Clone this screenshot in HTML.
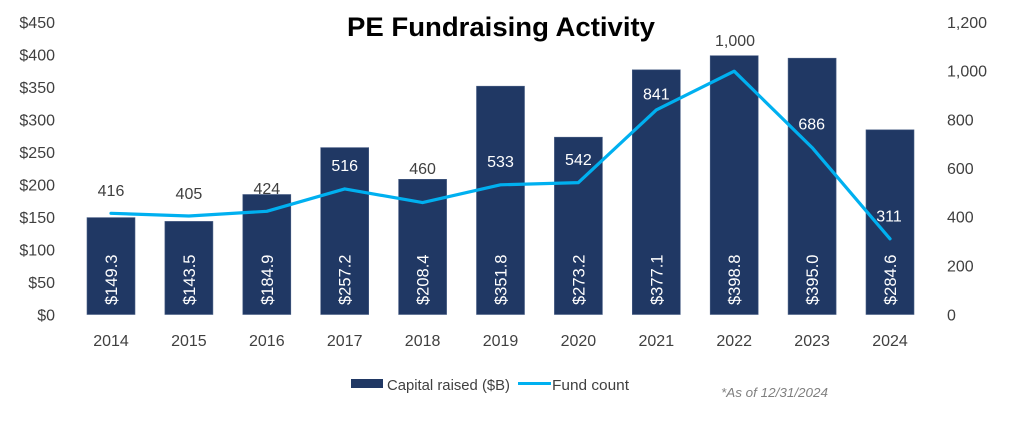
<!DOCTYPE html>
<html><head><meta charset="utf-8"><style>
html,body{margin:0;padding:0;background:#fff;}
svg{display:block;font-family:"Liberation Sans",Arial,sans-serif;}
</style></head><body>
<svg width="1024" height="438" viewBox="0 0 1024 438" xmlns="http://www.w3.org/2000/svg">
<rect width="1024" height="438" fill="#fff"/>
<text x="501" y="36" text-anchor="middle" font-size="27" font-weight="bold" fill="#000" textLength="308" lengthAdjust="spacingAndGlyphs">PE Fundraising Activity</text>
<g font-size="16" fill="#404040" text-anchor="end">
<text x="55" y="28">$450</text><text x="55" y="60.5">$400</text><text x="55" y="93">$350</text><text x="55" y="125.5">$300</text><text x="55" y="158">$250</text><text x="55" y="190.5">$200</text><text x="55" y="223">$150</text><text x="55" y="255.5">$100</text><text x="55" y="288">$50</text><text x="55" y="320.5">$0</text>
</g>
<g font-size="16" fill="#404040" text-anchor="start">
<text x="947" y="28">1,200</text><text x="947" y="76.7">1,000</text><text x="947" y="125.3">800</text><text x="947" y="174">600</text><text x="947" y="222.7">400</text><text x="947" y="271.3">200</text><text x="947" y="320.5">0</text>
</g>
<g fill="#203864" stroke="#4a5f86" stroke-width="0.6">
<rect x="87" y="217.6" width="48" height="96.9"/>
<rect x="164.9" y="221.4" width="48" height="93.1"/>
<rect x="242.8" y="194.5" width="48" height="120"/>
<rect x="320.7" y="147.6" width="48" height="166.9"/>
<rect x="398.6" y="179.3" width="48" height="135.2"/>
<rect x="476.5" y="86.2" width="48" height="228.3"/>
<rect x="554.4" y="137.2" width="48" height="177.3"/>
<rect x="632.3" y="69.8" width="48" height="244.7"/>
<rect x="710.2" y="55.7" width="48" height="258.8"/>
<rect x="788.1" y="58.2" width="48" height="256.3"/>
<rect x="866" y="129.8" width="48" height="184.7"/>
</g>
<g font-size="16.5" fill="#fff">
<text transform="translate(117,305) rotate(-90)">$149.3</text>
<text transform="translate(194.9,305) rotate(-90)">$143.5</text>
<text transform="translate(272.8,305) rotate(-90)">$184.9</text>
<text transform="translate(350.7,305) rotate(-90)">$257.2</text>
<text transform="translate(428.6,305) rotate(-90)">$208.4</text>
<text transform="translate(506.5,305) rotate(-90)">$351.8</text>
<text transform="translate(584.4,305) rotate(-90)">$273.2</text>
<text transform="translate(662.3,305) rotate(-90)">$377.1</text>
<text transform="translate(740.2,305) rotate(-90)">$398.8</text>
<text transform="translate(818.1,305) rotate(-90)">$395.0</text>
<text transform="translate(896,305) rotate(-90)">$284.6</text>
</g>
<polyline fill="none" stroke="#00B0F0" stroke-width="3.2" stroke-linejoin="round" stroke-linecap="round" points="111,213.3 188.9,216 266.8,211.3 344.7,188.9 422.6,202.6 500.5,184.8 578.4,182.6 656.3,109.9 734.2,71.2 812.1,147.6 890,238.8"/>
<g font-size="16" text-anchor="middle">
<text x="111" y="196" fill="#404040">416</text>
<text x="188.9" y="199" fill="#404040">405</text>
<text x="266.8" y="194" fill="#404040">424</text>
<text x="344.7" y="171" fill="#fff">516</text>
<text x="422.6" y="174" fill="#404040">460</text>
<text x="500.5" y="167" fill="#fff">533</text>
<text x="578.4" y="165" fill="#fff">542</text>
<text x="656.3" y="99.5" fill="#fff">841</text>
<text x="735" y="46" fill="#404040">1,000</text>
<text x="811.7" y="129.5" fill="#fff">686</text>
<text x="889" y="221.5" fill="#fff">311</text>
</g>
<g font-size="16" fill="#404040" text-anchor="middle">
<text x="111" y="346">2014</text><text x="188.9" y="346">2015</text><text x="266.8" y="346">2016</text><text x="344.7" y="346">2017</text><text x="422.6" y="346">2018</text><text x="500.5" y="346">2019</text><text x="578.4" y="346">2020</text><text x="656.3" y="346">2021</text><text x="734.2" y="346">2022</text><text x="812.1" y="346">2023</text><text x="890" y="346">2024</text>
</g>
<rect x="351" y="379" width="32" height="9" fill="#203864"/>
<text x="387" y="390" font-size="15" fill="#404040" textLength="123" lengthAdjust="spacingAndGlyphs">Capital raised ($B)</text>
<line x1="518" y1="383.5" x2="551" y2="383.5" stroke="#00B0F0" stroke-width="3"/>
<text x="552" y="390" font-size="15" fill="#404040" textLength="77" lengthAdjust="spacingAndGlyphs">Fund count</text>
<text x="721" y="397" font-size="13" font-style="italic" fill="#808080" textLength="107" lengthAdjust="spacingAndGlyphs">*As of 12/31/2024</text>
</svg>
</body></html>
